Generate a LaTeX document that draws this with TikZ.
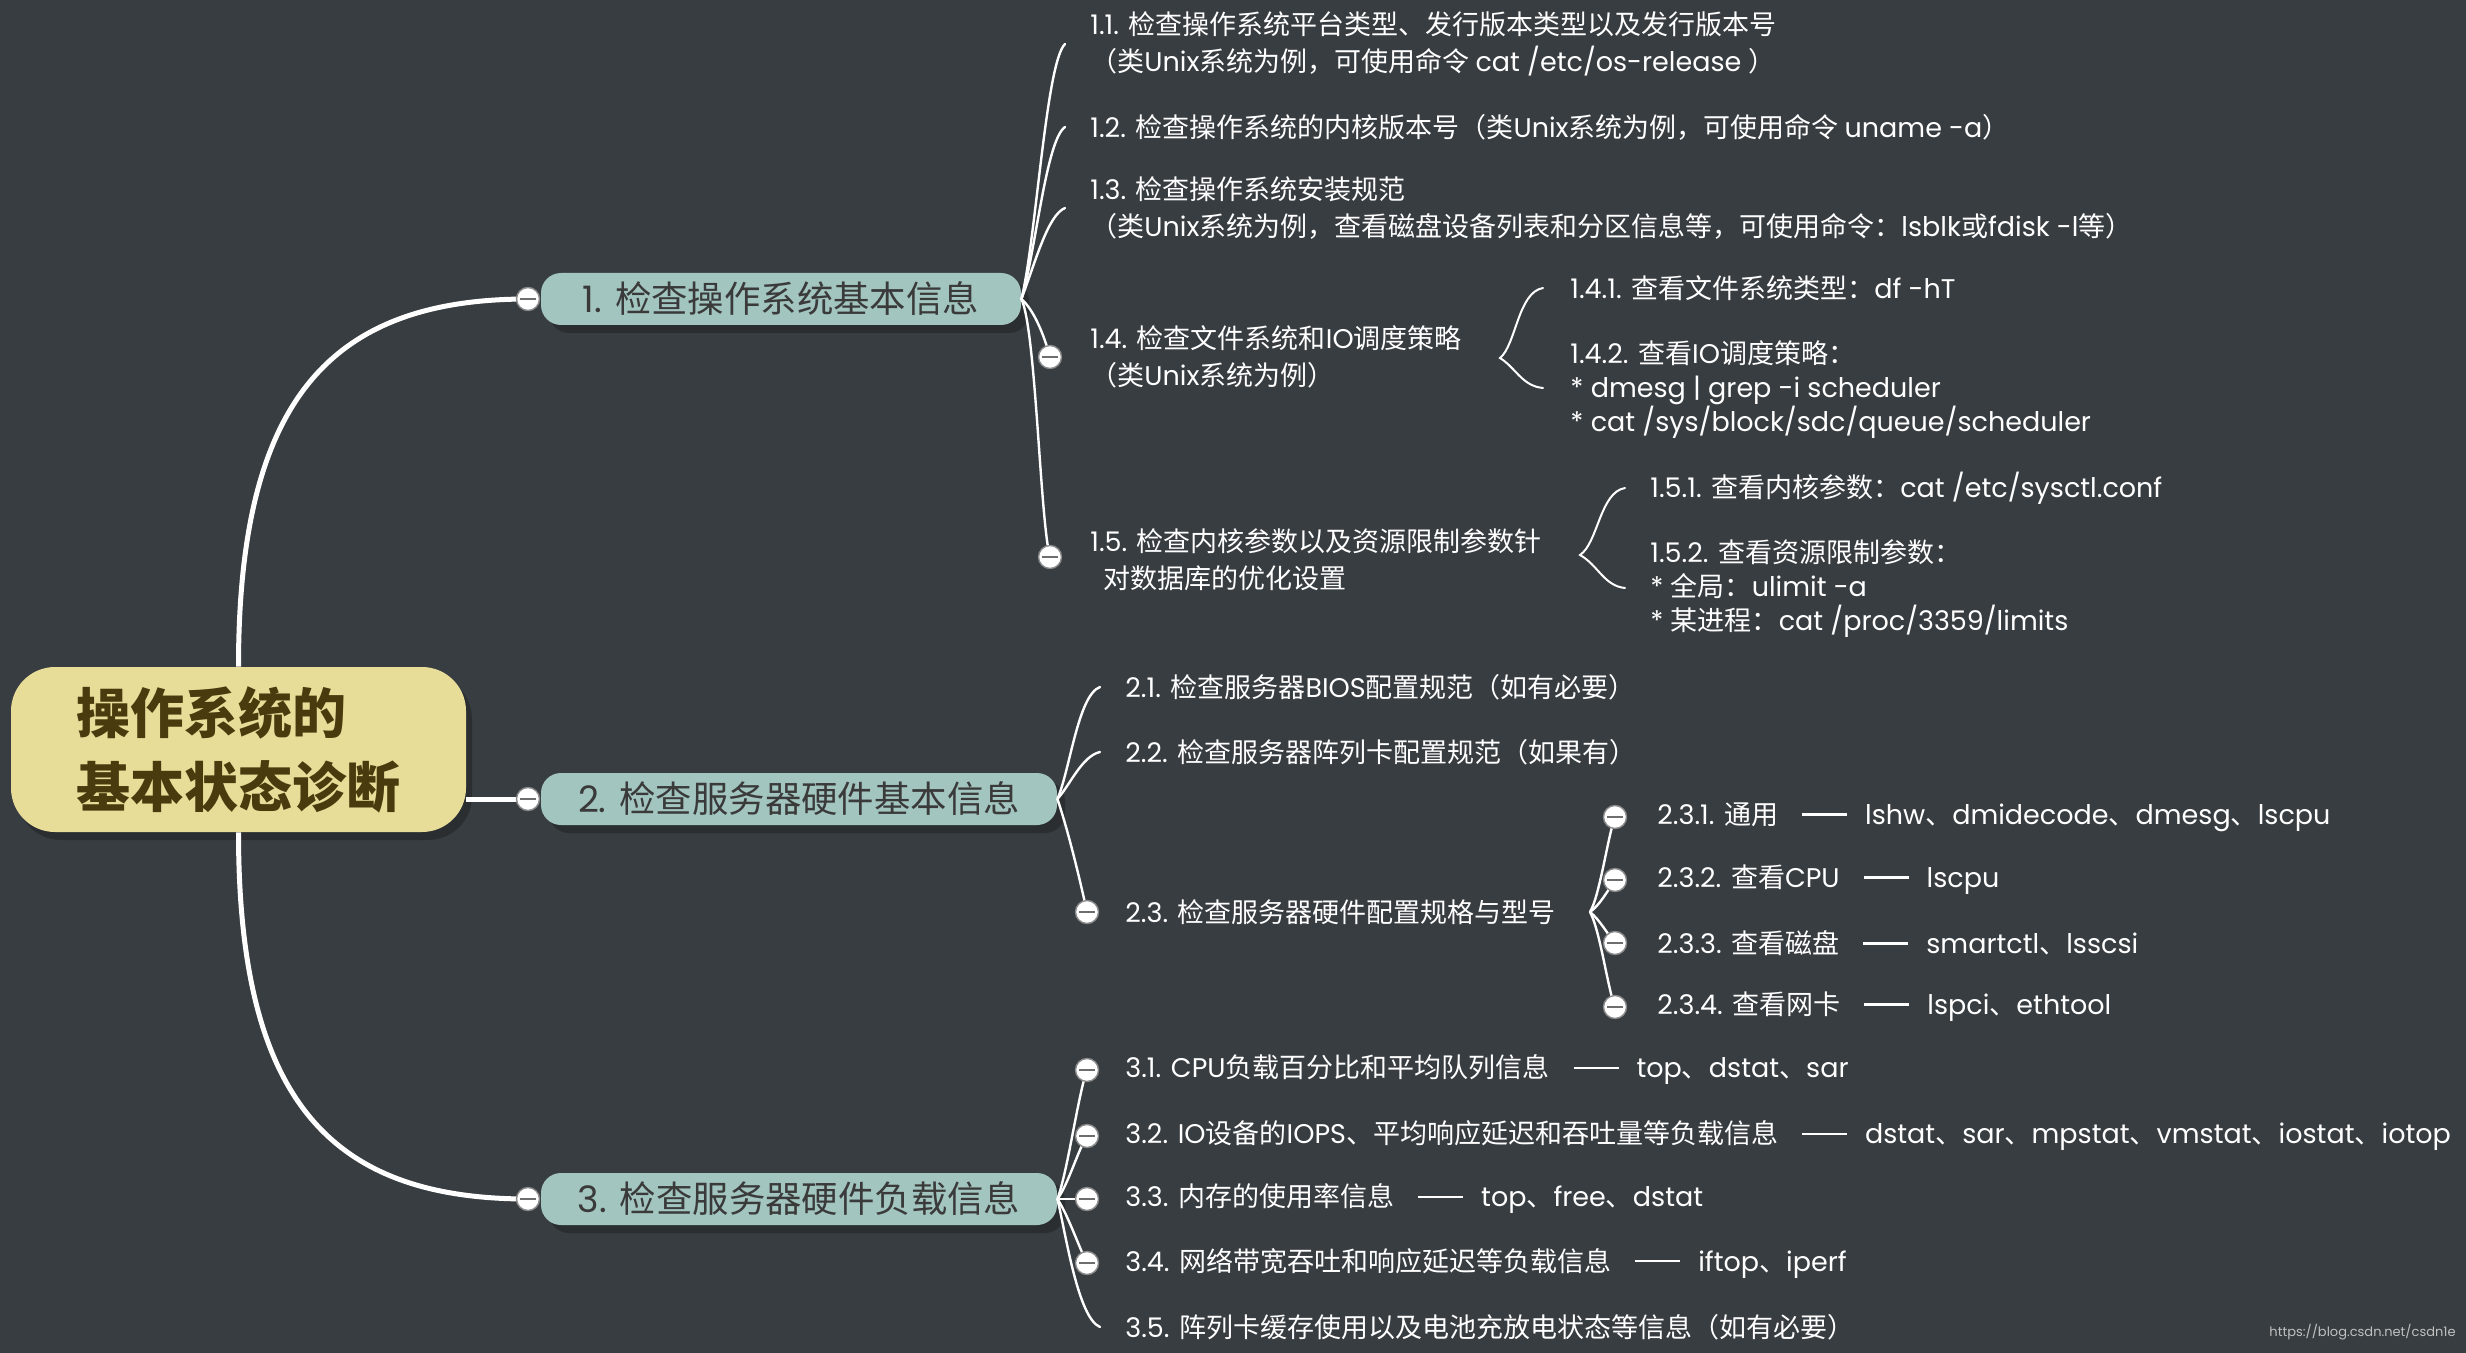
\documentclass[tikz,border=0pt]{standalone}
\usepackage{fontspec}
\setmainfont{Poppins}
\newfontfamily\cjkf{Noto Sans CJK SC}
\newfontfamily\latf{Poppins}
\usetikzlibrary{shadows}
\XeTeXinterchartokenstate=1
\ifdefined\newXeTeXintercharclass \newXeTeXintercharclass\cjkclass \else \chardef\cjkclass=7 \fi
\newcount\mycc
\def\setcjkrange#1#2{\mycc=#1 \loop \XeTeXcharclass\mycc=\cjkclass \ifnum\mycc<#2 \advance\mycc by 1 \repeat}
\setcjkrange{"3000}{"303F}
\setcjkrange{"4E00}{"9FFF}
\setcjkrange{"FF00}{"FFEF}
\XeTeXinterchartoks 0 \cjkclass = {\cjkf}
\XeTeXinterchartoks 4095 \cjkclass = {\cjkf}
\XeTeXinterchartoks \cjkclass 0 = {\latf}
\XeTeXinterchartoks 4095 0 = {\latf}
\definecolor{bgc}{HTML}{383D41}
\definecolor{rootfill}{HTML}{E8DD98}
\definecolor{roottext}{HTML}{4A3B0F}
\definecolor{brfill}{HTML}{A2C5BF}
\definecolor{brtext}{HTML}{3A3A3A}
\definecolor{shadowc}{HTML}{2A2E31}
\definecolor{togring}{HTML}{8A8A8A}
\definecolor{togminus}{HTML}{6E6E6E}
\definecolor{wmark}{HTML}{C0C0C0}
\newcommand\sepdash{\hspace{12pt}\rule[4.3pt]{22.5pt}{1.4pt}\hspace{9pt}}
\tikzset{
  rootbox/.style={fill=rootfill, rounded corners=22pt, minimum width=227.5pt, minimum height=82.5pt,
    text=roottext, align=left, font=\fontsize{27}{37}\selectfont\bfseries, inner sep=0pt,
    drop shadow={shadow xshift=3pt, shadow yshift=-4pt, fill=shadowc, opacity=1}},
  brbox/.style={fill=brfill, rounded corners=10pt, minimum height=26pt, text=brtext,
    font=\fontsize{18.2}{22}\selectfont, inner sep=0pt,
    drop shadow={shadow xshift=4pt, shadow yshift=-4pt, fill=shadowc, opacity=1}},
  leaf/.style={text=white, inner sep=0pt, anchor=west, align=left, font=\fontsize{13.5}{18.5}\selectfont},
  leafm/.style={leaf, font=\fontsize{13.5}{17}\selectfont},
  tog/.style={circle, draw=togring, fill=white, line width=0.7pt, minimum size=11.5pt, inner sep=0pt,
    path picture={\draw[togminus, line width=1.3pt] ([xshift=-4pt]path picture bounding box.center) -- ([xshift=4pt]path picture bounding box.center);}},
  rootline/.style={draw=white, line width=2.5pt},
  link/.style={draw=white, line width=1.2pt, line cap=round},
  bracel/.style={draw=white, line width=1pt, line cap=round},
  wm/.style={text=wmark, inner sep=0pt, anchor=east, font=\fontsize{6.5}{8}\selectfont}
}
\begin{document}
\begin{tikzpicture}[x=0.5pt, y=-0.5pt]
\useasboundingbox (0,0) rectangle (2466,1353);
\fill[bgc] (0,0) rectangle (2466,1353);

% main nodes
\node[rootbox] (root) at (238.5,749.5) {操作系统的\\基本状态诊断};
\node[brbox, minimum width=240pt] (b1) at (781,299) {1. 检查操作系统基本信息};
\node[brbox, minimum width=258pt] (b2) at (799,799) {2. 检查服务器硬件基本信息};
\node[brbox, minimum width=258pt] (b3) at (799,1199) {3. 检查服务器硬件负载信息};

% toggle centres
\coordinate (c1) at (528,299);
\coordinate (c2) at (528,799);
\coordinate (c3) at (528,1199);
\coordinate (t14) at (1050,357);
\coordinate (t15) at (1050,557);
\coordinate (t23) at (1087,912);
\coordinate (t231) at (1615,817);
\coordinate (t232) at (1615,880);
\coordinate (t233) at (1615,943);
\coordinate (t234) at (1615,1007);
\coordinate (t31) at (1087,1070);
\coordinate (t32) at (1087,1136);
\coordinate (t33) at (1087,1199);
\coordinate (t34) at (1087,1263);

% leaf texts
\node[leaf] (n11) at (1090,44) {1.1. 检查操作系统平台类型、发行版本类型以及发行版本号\\（类Unix系统为例，可使用命令 cat /etc/os-release ）};
\node[leaf] (n12) at (1090,127) {1.2. 检查操作系统的内核版本号（类Unix系统为例，可使用命令 uname -a）};
\node[leaf] (n13) at (1090,208) {1.3. 检查操作系统安装规范\\（类Unix系统为例，查看磁盘设备列表和分区信息等，可使用命令：lsblk或fdisk -l等）};
\node[leaf] (n14) at (1090,357) {1.4. 检查文件系统和IO调度策略\\（类Unix系统为例）};
\node[leaf] (n141) at (1570,288) {1.4.1. 查看文件系统类型：df -hT};
\node[leafm] (n142) at (1570,390) {1.4.2. 查看IO调度策略：\\{}* dmesg | grep -i scheduler\\{}* cat /sys/block/sdc/queue/scheduler};
\node[leaf] (n15) at (1090,560) {1.5. 检查内核参数以及资源限制参数针\\\hspace*{6.5pt}对数据库的优化设置};
\node[leaf] (n151) at (1650,488) {1.5.1. 查看内核参数：cat /etc/sysctl.conf};
\node[leafm] (n152) at (1650,589) {1.5.2. 查看资源限制参数：\\{}* 全局：ulimit -a\\{}* 某进程：cat /proc/3359/limits};
\node[leaf] (n21) at (1125,687) {2.1. 检查服务器BIOS配置规范（如有必要）};
\node[leaf] (n22) at (1125,752) {2.2. 检查服务器阵列卡配置规范（如果有）};
\node[leaf] (n23) at (1125,912) {2.3. 检查服务器硬件配置规格与型号};
\node[leaf] (n231) at (1657,817) {2.3.1. 通用\sepdash lshw、dmidecode、dmesg、lscpu};
\node[leaf] (n232) at (1657,880) {2.3.2. 查看CPU\sepdash lscpu};
\node[leaf] (n233) at (1657,943) {2.3.3. 查看磁盘\sepdash smartctl、lsscsi};
\node[leaf] (n234) at (1657,1007) {2.3.4. 查看网卡\sepdash lspci、ethtool};
\node[leaf] (n31) at (1125,1070) {3.1. CPU负载百分比和平均队列信息\sepdash top、dstat、sar};
\node[leaf] (n32) at (1125,1136) {3.2. IO设备的IOPS、平均响应延迟和吞吐量等负载信息\sepdash dstat、sar、mpstat、vmstat、iostat、iotop};
\node[leaf] (n33) at (1125,1199) {3.3. 内存的使用率信息\sepdash top、free、dstat};
\node[leaf] (n34) at (1125,1263) {3.4. 网络带宽吞吐和响应延迟等负载信息\sepdash iftop、iperf};
\node[leaf] (n35) at (1125,1327) {3.5. 阵列卡缓存使用以及电池充放电状态等信息（如有必要）};

% root connectors
\draw[rootline] (root.north) .. controls (238.5,400) and (330,299) .. (c1);
\draw[rootline] (root.south) .. controls (238.5,1100) and (330,1199) .. (c3);
\draw[rootline] (root.east |- c2) -- (c2);

% branch 1 links
\draw[link] (b1.east) .. controls (1036,240) and (1046,62) .. ([xshift=-12.5pt]n11.west);
\draw[link] (b1.east) .. controls (1036,250) and (1046,140) .. ([xshift=-12.5pt]n12.west);
\draw[link] (b1.east) .. controls (1036,260) and (1048,215) .. ([xshift=-12.5pt]n13.west);
\draw[link] (b1.east) .. controls (1034,310) and (1044,335) .. (t14);
\draw[link] (b1.east) .. controls (1036,330) and (1040,520) .. (t15);

% braces
\coordinate (tip14) at (1500,358);
\coordinate (bot14) at (1543,388);
\coordinate (tip15) at (1580,555);
\coordinate (bot15) at (1625,588);
\draw[bracel] ([xshift=-13.5pt]n141.west) .. controls (1518,292) and (1516,345) .. (tip14)
  .. controls (1516,368) and (1522,386) .. (bot14);
\draw[bracel] ([xshift=-12.5pt]n151.west) .. controls (1600,492) and (1598,543) .. (tip15)
  .. controls (1598,565) and (1604,586) .. (bot15);

% branch 2 links
\draw[link] (b2.east) .. controls (1070,770) and (1078,695) .. ([xshift=-12.5pt]n21.west);
\draw[link] (b2.east) .. controls (1070,785) and (1082,756) .. ([xshift=-12.5pt]n22.west);
\draw[link] (b2.east) .. controls (1068,830) and (1080,880) .. (t23);
\coordinate (f23) at (1590,912);
\draw[link] (f23) .. controls (1600,895) and (1608,835) .. (t231);
\draw[link] (f23) .. controls (1600,905) and (1608,890) .. (t232);
\draw[link] (f23) .. controls (1600,920) and (1608,935) .. (t233);
\draw[link] (f23) .. controls (1600,930) and (1608,990) .. (t234);

% branch 3 links
\draw[link] (b3.east) .. controls (1068,1170) and (1078,1095) .. (t31);
\draw[link] (b3.east) .. controls (1068,1185) and (1078,1150) .. (t32);
\draw[link] (b3.east) -- (t33);
\draw[link] (b3.east) .. controls (1068,1215) and (1078,1245) .. (t34);
\draw[link] (b3.east) .. controls (1066,1235) and (1078,1318) .. ([xshift=-12.5pt]n35.west);

% toggles
\foreach \t in {c1,c2,c3,t14,t15,t23,t231,t232,t233,t234,t31,t32,t33,t34}
  \node[tog] (g\t) at (\t) {};

\node[wm] (wmk) at (2456,1332) {https://blog.csdn.net/csdn1e};
\end{tikzpicture}
\end{document}
